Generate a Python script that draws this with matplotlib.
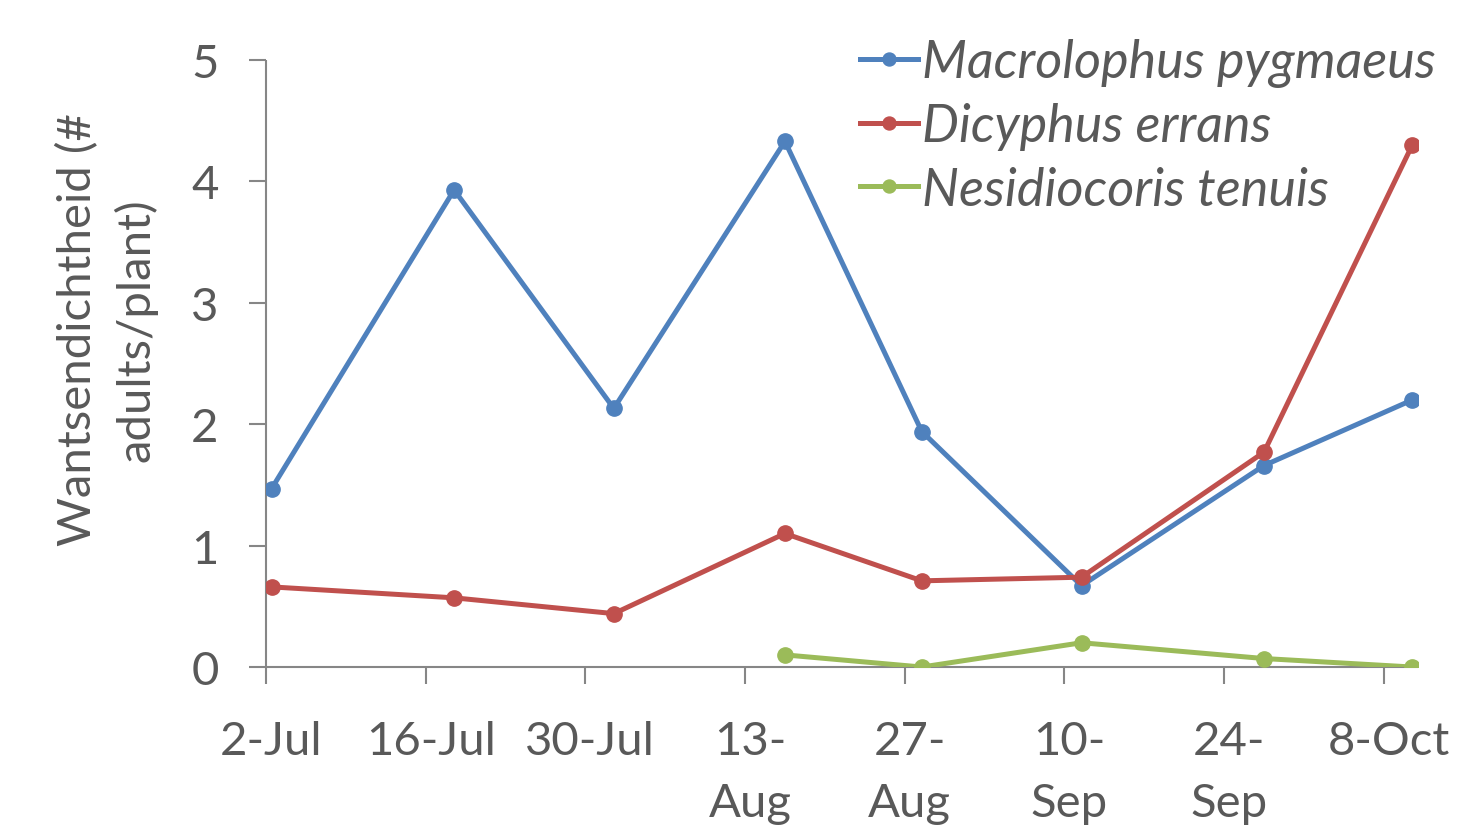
import matplotlib
matplotlib.use('Agg')
import matplotlib.pyplot as plt
import matplotlib.transforms as mtrans
import numpy as np

# sample days counted from 2-Jul
days = [0, 16, 30, 45, 57, 71, 87, 100]
macrolophus = [1.47, 3.93, 2.13, 4.33, 1.94, 0.67, 1.66, 2.20]
dicyphus = [0.66, 0.57, 0.44, 1.10, 0.71, 0.74, 1.77, 4.30]
nesidio_days = [45, 57, 71, 87, 100]
nesidiocoris = [0.10, 0.00, 0.20, 0.07, 0.00]

tick_days = [0, 14, 28, 42, 56, 70, 84, 98]
tick_labels = ['2-Jul', '16-Jul', '30-Jul', '13-\nAug', '27-\nAug', '10-\nSep', '24-\nSep', '8-Oct']

txt = '#595959'
axc = '#868686'
plt.rcParams['font.family'] = ['Lato', 'DejaVu Sans']

fig = plt.figure(figsize=(14.62, 8.28), dpi=100)
ax = fig.add_axes([0.1819, 0.1932, 0.788, 0.7331])

x = np.array(days) + 0.5
xn = np.array(nesidio_days) + 0.5
ax.plot(x, macrolophus, '-o', color='#4F81BD', lw=3.6, ms=11, label='Macrolophus pygmaeus', zorder=3)
ax.plot(x, dicyphus, '-o', color='#C0504D', lw=3.6, ms=11, label='Dicyphus errans', zorder=4)
ax.plot(xn, nesidiocoris, '-o', color='#9BBB59', lw=3.6, ms=11, label='Nesidiocoris tenuis', zorder=5)

ax.set_xlim(0, 101)
ax.set_ylim(0, 5)
ax.set_xticks(tick_days)
ax.set_xticklabels(tick_labels, va='top', linespacing=1.6)
ax.set_yticks([0, 1, 2, 3, 4, 5])

for s in ['top', 'right']:
    ax.spines[s].set_visible(False)
for s in ['left', 'bottom']:
    ax.spines[s].set_color(axc)
    ax.spines[s].set_linewidth(1.5)
    ax.spines[s].set_capstyle('butt')
ax.tick_params(axis='both', colors=axc, width=1.5, length=12, labelcolor=txt, labelsize=34)
ax.tick_params(axis='y', pad=22)
ax.tick_params(axis='x', pad=26)
# labels sit a half day to the right of their tick
off = mtrans.ScaledTranslation(5 / 100, 0, fig.dpi_scale_trans)
for lab in ax.get_xticklabels():
    lab.set_transform(lab.get_transform() + off)

ax.set_ylabel('Wantsendichtheid (#\nadults/plant)', fontsize=34, color=txt, linespacing=1.4)
ax.yaxis.set_label_coords(-0.094, 0.557)

leg = ax.legend(loc='upper right', bbox_to_anchor=(1.056, 1.113), frameon=False,
                prop={'style': 'italic', 'size': 37.5}, handlelength=1.1, handletextpad=0.08,
                labelspacing=0.29, markerscale=0.85, labelcolor=txt)

fig.savefig('out.png', dpi=100)
